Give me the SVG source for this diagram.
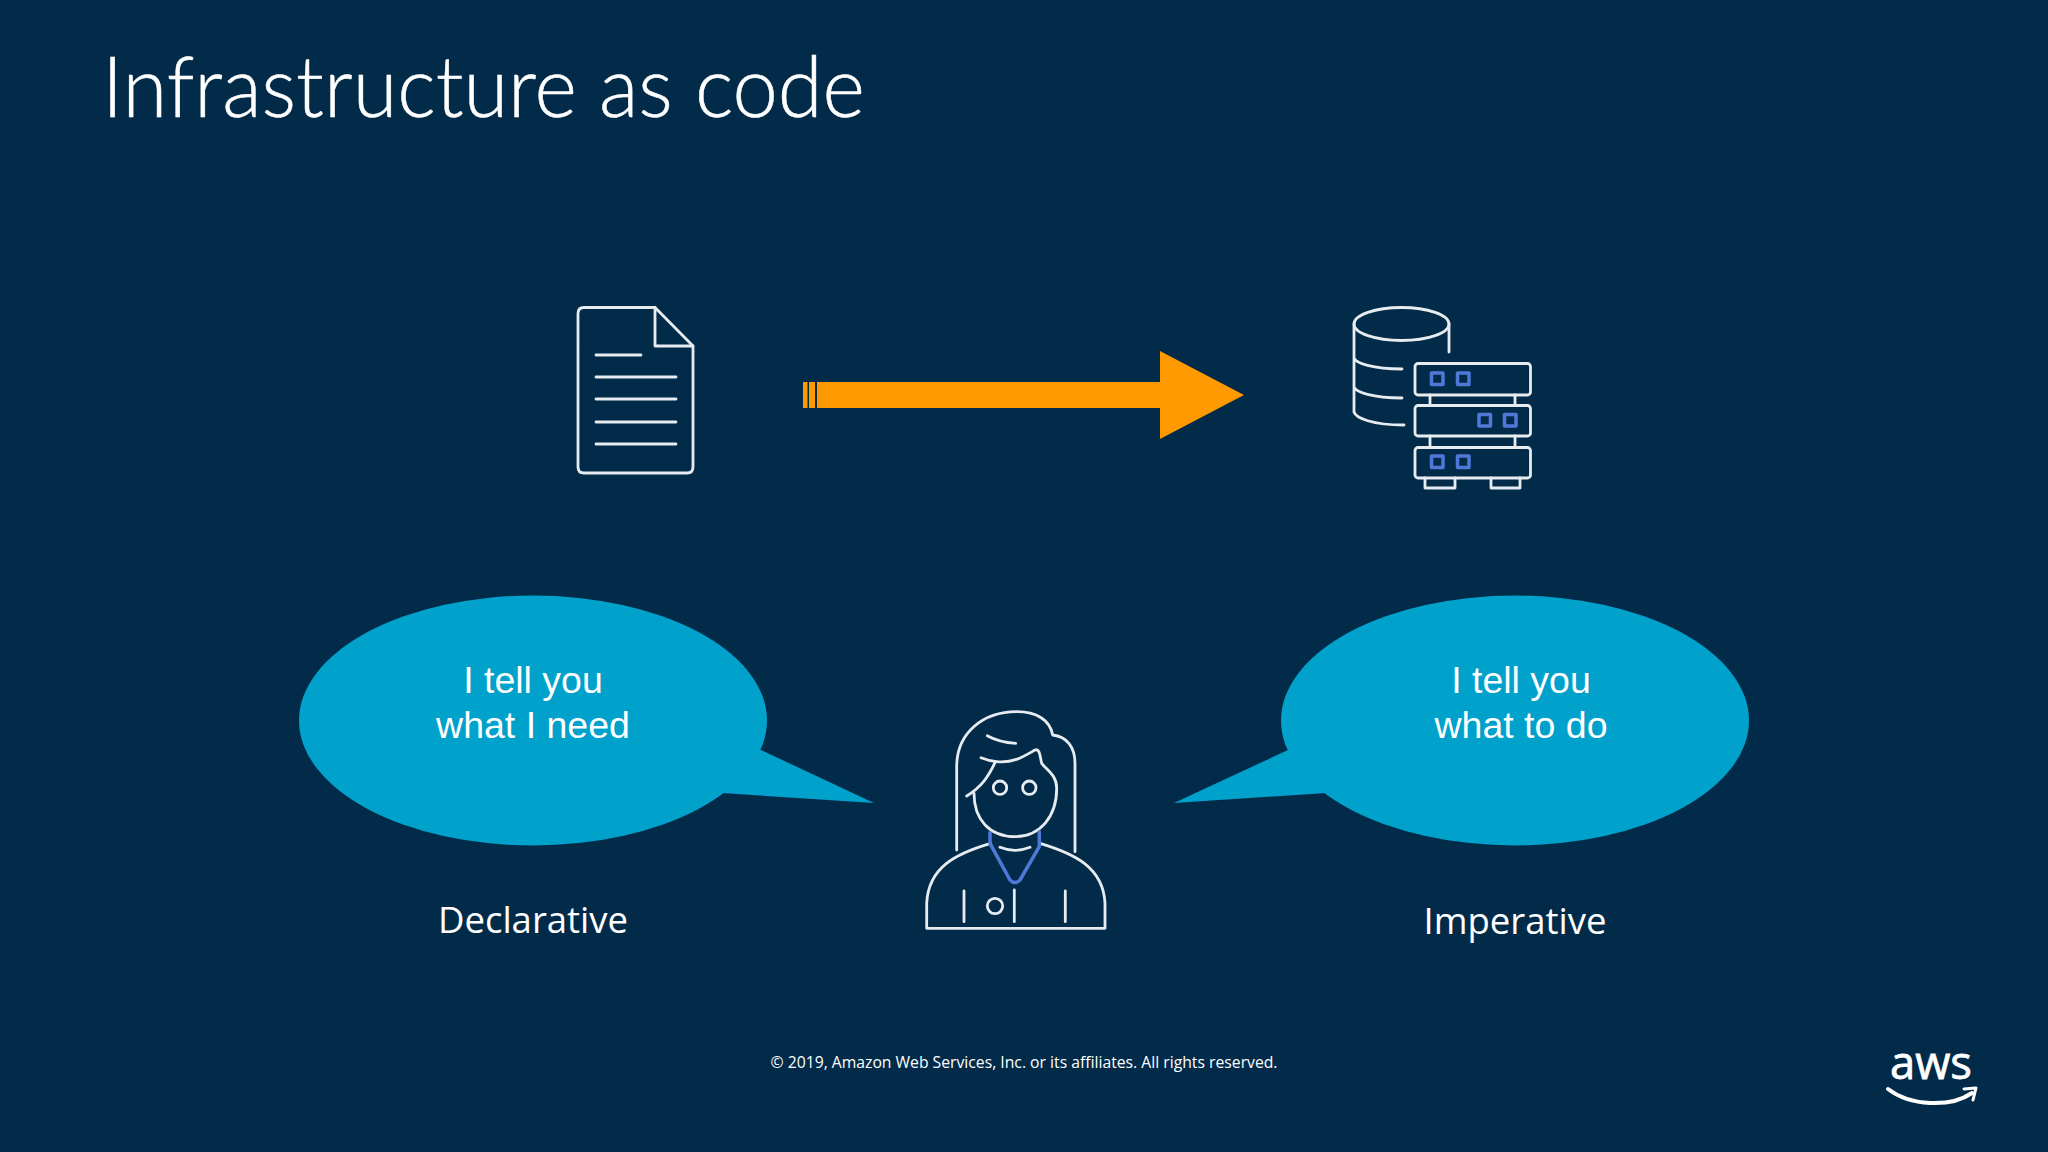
<svg xmlns="http://www.w3.org/2000/svg" width="2048" height="1152" viewBox="0 0 2048 1152">
<style>
.ln{fill:none;stroke:#e6ecf0;stroke-width:2.800;stroke-linecap:round;stroke-linejoin:round}
.bl{fill:none;stroke:#4f78d8;stroke-width:3.500;stroke-linejoin:round}
.or{fill:#ff9900}
.bub{fill:#00a1cb}
.say{font-family:"Liberation Sans",Arial,sans-serif;font-size:37.500px;fill:#fff;text-anchor:middle}
.cap{font-family:"Open Sans","Noto Sans",sans-serif;font-size:36.500px;fill:#fff;text-anchor:middle}
</style>
<rect width="2048" height="1152" fill="#022b4a"/>
<text id="title" x="102" y="117" font-family="Lato,sans-serif" font-weight="300" font-size="84" fill="#fff" stroke="#fff" stroke-width="0.500" textLength="763" lengthAdjust="spacingAndGlyphs">Infrastructure as code</text>

<g id="document" class="ln">
<path d="M584,307.500H655L693,346V467Q693,473 687,473H584Q578,473 578,467V313.500Q578,307.500 584,307.500Z"/>
<path d="M655,307.500V346H693"/>
<path d="M596,355H641M596,377H676M596,399H676M596,422H676M596,444H676"/>
</g>

<g id="connectors">
<g id="arrow" class="or">
<rect x="803" y="382" width="4.500" height="26"/>
<rect x="809" y="382" width="6" height="26"/>
<path d="M817,382H1160V351L1244,395L1160,439V408H817Z"/>
</g>
</g>

<g id="infrastructure">
<g class="ln">
<ellipse cx="1401.500" cy="324" rx="47.500" ry="16.500"/>
<path d="M1449,324V352M1354,324V412C1356,418 1372,425 1404,425M1354,358C1356,363 1372,369 1402,369M1354,387C1356,392 1372,398 1402,398"/>
<rect x="1415" y="363.500" width="115.500" height="31.500" rx="3"/>
<rect x="1415" y="405.500" width="115.500" height="30.500" rx="3"/>
<rect x="1415" y="447.500" width="115.500" height="30.500" rx="3"/>
<path d="M1430,395V405M1515,395V405M1430,436V447M1515,436V447M1425,478V488H1455V478M1491,478V488H1520V478"/>
</g>
<g class="bl">
<rect x="1431.500" y="373" width="11.500" height="11.500"/>
<rect x="1457.500" y="373" width="11.500" height="11.500"/>
<rect x="1479" y="414.500" width="11.500" height="11.500"/>
<rect x="1504.500" y="414.500" width="11.500" height="11.500"/>
<rect x="1431.500" y="456" width="11.500" height="11.500"/>
<rect x="1457.500" y="456" width="11.500" height="11.500"/>
</g>
</g>

<g id="bubble-declarative">
<ellipse class="bub" cx="533" cy="720.500" rx="234" ry="125"/>
<path class="bub" d="M761,750L874,803L722,793L690,740Z"/>
<text class="say" x="533" y="692.500">I tell you</text>
<text class="say" x="533" y="737.500">what I need</text>
</g>
<g id="bubble-imperative">
<ellipse class="bub" cx="1515" cy="720.500" rx="234" ry="125"/>
<path class="bub" d="M1288,750L1174,803L1326,793L1350,740Z"/>
<text class="say" x="1521" y="692.500">I tell you</text>
<text class="say" x="1521" y="737.500">what to do</text>
</g>

<g id="person">
<g class="ln">
<path d="M956.700,850V766.700C956.700,733 983,711.700 1016.700,711.700C1036.700,711.700 1050,720 1052.700,735C1066.700,736.700 1075,746.700 1075,763.300V851.700"/>
<path d="M974,793.300C974,820 990,836.700 1015,836.700C1040,836.700 1056.700,816.700 1056.700,788.300C1056.700,775 1046.700,770 1041.700,763.300C1040,756.700 1040,748.300 1035,750C1023.300,756.700 1013.300,763.300 996.700,761.700C990,761 985,759.300 981,757.700"/>
<path d="M995,762.700C988.300,776.700 981.700,786.700 966.700,796"/>
<path d="M987.300,735.700C995,740 1005,742.700 1015.700,743.300"/>
<circle cx="1000" cy="787.700" r="6.700"/>
<circle cx="1029.300" cy="787.700" r="6.700"/>
<path d="M1000,847.300Q1015,853.300 1030,847.300"/>
<path d="M926.700,928.300V903.300C928.300,866.700 956.700,853.300 990.700,843.300M1040,843.300C1073.300,853.300 1103.300,866.700 1105,903.300V928.300H926.700"/>
<path d="M964,891V921.700M1014.300,890V921.700M1065.300,891V921.700"/>
<circle cx="995" cy="906" r="7.700"/>
</g>
<path class="bl" stroke-linecap="round" d="M990,832.700V843.300L1010,880Q1015,885 1020,880L1039.300,846.700V831.700"/>
</g>

<text id="label-declarative" class="cap" x="533" y="933">Declarative</text>
<text id="label-imperative" class="cap" x="1515" y="934">Imperative</text>
<text id="copyright" x="1024" y="1068" font-family="'Open Sans','Noto Sans',sans-serif" font-size="15.500" fill="#fff" text-anchor="middle" textLength="507" lengthAdjust="spacingAndGlyphs">© 2019, Amazon Web Services, Inc. or its affiliates. All rights reserved.</text>

<g id="aws-logo">
<text x="1890" y="1079" font-family="'Open Sans','Noto Sans',sans-serif" font-size="46" fill="#fff" stroke="#fff" stroke-width="0.800" textLength="82" lengthAdjust="spacingAndGlyphs">aws</text>
<path d="M1888,1089C1910,1106 1950,1108 1972,1093" fill="none" stroke="#fff" stroke-width="4" stroke-linecap="round"/>
<path d="M1964,1089L1976,1088L1973,1100" fill="none" stroke="#fff" stroke-width="3" stroke-linejoin="round" stroke-linecap="round"/>
</g>
</svg>
